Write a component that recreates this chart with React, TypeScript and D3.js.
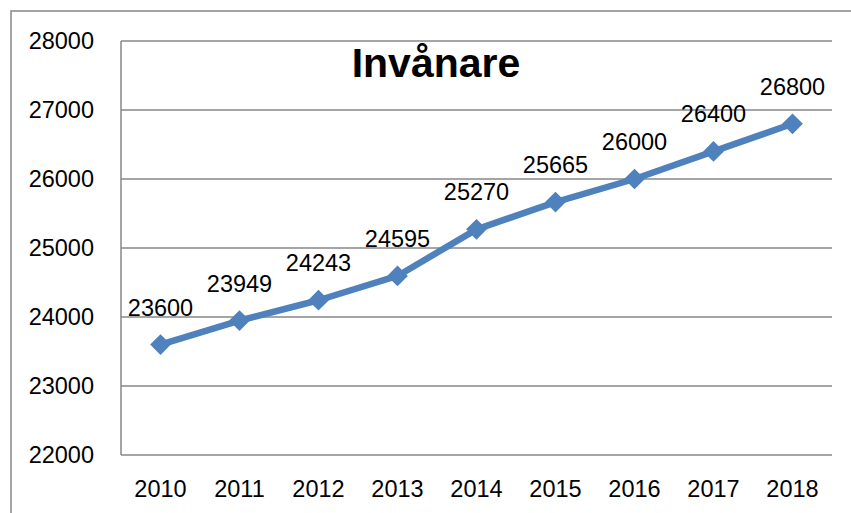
import React from "react";
import * as d3 from "d3";

// Invånare per år
const years = ["2010", "2011", "2012", "2013", "2014", "2015", "2016", "2017", "2018"];
const population = [23600, 23949, 24243, 24595, 25270, 25665, 26000, 26400, 26800];
const yTicks = [22000, 23000, 24000, 25000, 26000, 27000, 28000];
const title = "Invånare";

const W = 851;
const H = 513;
const margin = { top: 41, right: 19, bottom: 58, left: 121 };
const font = "'Liberation Sans', Arial, sans-serif";
const lineColor = "#4f81bd";
const gridColor = "#878787";

export default function App() {
  const x = d3
    .scaleBand<string>()
    .domain(years)
    .range([margin.left, W - margin.right]);
  const y = d3
    .scaleLinear()
    .domain([22000, 28000])
    .range([H - margin.bottom, margin.top]);

  const cx = (yr: string) => (x(yr) ?? 0) + x.bandwidth() / 2;

  const line = d3
    .line<number>()
    .x((_, i) => cx(years[i]))
    .y((d) => y(d));

  // square turned 45 degrees, like the Excel diamond marker
  const marker = d3.symbol(d3.symbolSquare, 215)();

  return (
    <svg
      width={W}
      height={H}
      style={{ position: "absolute", left: 0, top: 0, display: "block", background: "#fff" }}
    >
      {/* chart frame, cropped on the right and bottom */}
      <rect x={11} y={11} width={W + 20} height={H + 20} fill="none" stroke={gridColor} strokeWidth={1.5} />

      {/* gridlines */}
      {yTicks.map((t) => (
        <line
          key={t}
          x1={margin.left}
          x2={W - margin.right}
          y1={y(t)}
          y2={y(t)}
          stroke={gridColor}
          strokeWidth={1.5}
        />
      ))}
      <line
        x1={margin.left}
        x2={margin.left}
        y1={margin.top}
        y2={H - margin.bottom}
        stroke={gridColor}
        strokeWidth={1.5}
      />

      {/* y labels */}
      {yTicks.map((t) => (
        <text
          key={t}
          x={94}
          y={y(t)}
          dy="0.36em"
          textAnchor="end"
          fontFamily={font}
          fontSize={23.5}
          fill="#000"
        >
          {t}
        </text>
      ))}

      {/* x labels */}
      {years.map((yr) => (
        <text
          key={yr}
          x={cx(yr)}
          y={497}
          textAnchor="middle"
          fontFamily={font}
          fontSize={23.5}
          fill="#000"
        >
          {yr}
        </text>
      ))}

      {/* title */}
      <text
        x={436}
        y={77}
        textAnchor="middle"
        fontFamily={font}
        fontWeight="bold"
        fontSize={41}
        fill="#000"
      >
        {title}
      </text>

      {/* series */}
      <path
        d={line(population) ?? ""}
        fill="none"
        stroke={lineColor}
        strokeWidth={6.5}
        strokeLinejoin="round"
      />
      {population.map((v, i) => (
        <path
          key={years[i]}
          d={marker ?? ""}
          transform={`translate(${cx(years[i])},${y(v)}) rotate(45)`}
          fill={lineColor}
        />
      ))}

      {/* data labels */}
      {population.map((v, i) => (
        <text
          key={"l" + years[i]}
          x={cx(years[i])}
          y={y(v) - 29}
          textAnchor="middle"
          fontFamily={font}
          fontSize={23.5}
          fill="#000"
        >
          {v}
        </text>
      ))}
    </svg>
  );
}
